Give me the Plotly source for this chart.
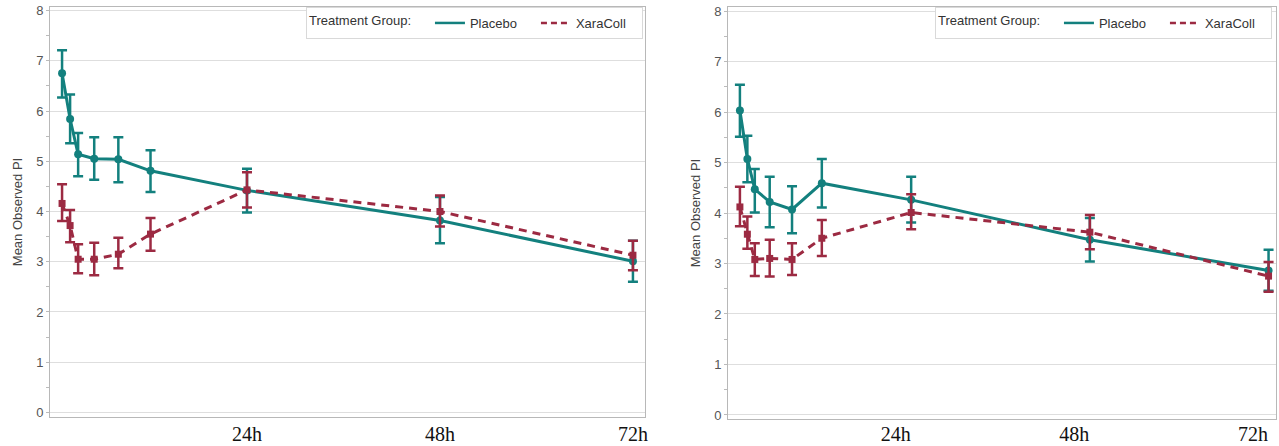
import plotly.graph_objects as go

# ---- data ----
hours = [1, 2, 3, 5, 8, 12, 24, 48, 72]
x_tick_vals = [24, 48, 72]
x_tick_text = ["24h", "48h", "72h"]
y_ticks = [0, 1, 2, 3, 4, 5, 6, 7, 8]

# left panel
left_placebo = [6.75, 5.84, 5.14, 5.05, 5.04, 4.81, 4.42, 3.82, 3.01]
left_placebo_hi = [7.21, 6.33, 5.56, 5.48, 5.48, 5.22, 4.85, 4.29, 3.42]
left_placebo_lo = [6.27, 5.36, 4.70, 4.63, 4.58, 4.39, 3.98, 3.37, 2.60]
left_xara = [4.16, 3.72, 3.05, 3.05, 3.15, 3.55, 4.43, 4.00, 3.13]
left_xara_hi = [4.54, 4.03, 3.35, 3.38, 3.48, 3.87, 4.78, 4.32, 3.42]
left_xara_lo = [3.81, 3.39, 2.77, 2.73, 2.87, 3.22, 4.08, 3.70, 2.83]

# right panel
right_placebo = [6.03, 5.07, 4.47, 4.22, 4.07, 4.59, 4.26, 3.47, 2.86]
right_placebo_hi = [6.54, 5.53, 4.87, 4.72, 4.53, 5.07, 4.72, 3.90, 3.27]
right_placebo_lo = [5.51, 4.61, 4.01, 3.72, 3.60, 4.11, 3.81, 3.04, 2.46]
right_xara = [4.12, 3.58, 3.08, 3.10, 3.08, 3.50, 4.01, 3.62, 2.75]
right_xara_hi = [4.52, 3.93, 3.40, 3.47, 3.40, 3.86, 4.37, 3.96, 3.03]
right_xara_lo = [3.74, 3.29, 2.75, 2.74, 2.77, 3.15, 3.68, 3.28, 2.44]

TEAL = "#13807e"
RED = "#9c2a42"
SANS = "Liberation Sans, Arial, sans-serif"

fig = go.Figure()


def add_series(y, hi, lo, color, symbol, dash, xa, ya, size):
    fig.add_trace(go.Scatter(
        x=hours, y=y, mode="lines+markers",
        line=dict(color=color, width=3, dash=dash),
        marker=dict(color=color, symbol=symbol, size=size),
        error_y=dict(type="data", symmetric=False,
                     array=[h - v for h, v in zip(hi, y)],
                     arrayminus=[v - l for v, l in zip(y, lo)],
                     color=color, thickness=2.5, width=5),
        xaxis=xa, yaxis=ya, showlegend=False, hoverinfo="x+y",
        cliponaxis=False,
    ))


add_series(left_placebo, left_placebo_hi, left_placebo_lo, TEAL, "circle", "solid", "x", "y", 8)
add_series(left_xara, left_xara_hi, left_xara_lo, RED, "square", "8px,6px", "x", "y", 7)
add_series(right_placebo, right_placebo_hi, right_placebo_lo, TEAL, "circle", "solid", "x2", "y2", 8)
add_series(right_xara, right_xara_hi, right_xara_lo, RED, "square", "8px,6px", "x2", "y2", 7)

# legend-only entries (lines only, as in the reference)
for lg, xa, ya in [("legend", "x", "y"), ("legend2", "x2", "y2")]:
    fig.add_trace(go.Scatter(x=[None], y=[None], mode="lines", name="Placebo",
                             line=dict(color=TEAL, width=2.5), legend=lg,
                             xaxis=xa, yaxis=ya))
    fig.add_trace(go.Scatter(x=[None], y=[None], mode="lines", name="XaraColl",
                             line=dict(color=RED, width=2.5, dash="6px,4px"), legend=lg,
                             xaxis=xa, yaxis=ya))

W, H = 1279, 446

xaxis_common = dict(
    tickvals=x_tick_vals, ticktext=x_tick_text, ticks="",
    tickfont=dict(family="Liberation Serif, Times New Roman, serif", size=20, color="#111"),
    showgrid=False, zeroline=False, showline=True, linecolor="#b8b8b8", linewidth=1,
    mirror=True, automargin=False, ticklabeloverflow="allow",
)
yaxis_common = dict(
    range=[-0.09, 8.07], tickvals=y_ticks, ticks="outside", ticklen=3, tickcolor="#bbb",
    minor=dict(dtick=0.5, ticks="outside", ticklen=3, tickcolor="#bbb", showgrid=False),
    tickfont=dict(family=SANS, size=13, color="#555"),
    showgrid=True, gridcolor="#dedede", gridwidth=1, zeroline=False,
    showline=True, linecolor="#b8b8b8", linewidth=1, mirror=True, automargin=False,
    title=dict(text="Mean Observed PI", standoff=10,
               font=dict(family=SANS, size=13, color="#444")),
)

legend_common = dict(
    orientation="h", xanchor="right", yanchor="top",
    bordercolor="#d9d9d9", borderwidth=1, bgcolor="white",
    font=dict(family=SANS, size=13, color="#333"),
    title=dict(text="Treatment Group:" + "&nbsp;" * 3, side="left",
               font=dict(family=SANS, size=13, color="#333")),
    itemwidth=30, tracegroupgap=0, entrywidth=61, entrywidthmode="pixels",
    valign="middle",
)

fig.update_layout(
    template="none",
    width=W, height=H,
    margin=dict(l=0, r=0, t=0, b=0, autoexpand=False),
    paper_bgcolor="white", plot_bgcolor="white",
    xaxis=dict(domain=[50 / W, 645 / W], range=[-0.5, 73.5], anchor="y",
               ticklabelstandoff=-1, **xaxis_common),
    yaxis=dict(domain=[1 - 417 / H, 1 - 7 / H], anchor="x", **yaxis_common),
    xaxis2=dict(domain=[728 / W, 1276 / W], range=[-0.6, 73.0], anchor="y2",
                ticklabelposition="outside left", ticklabelstandoff=-3, **xaxis_common),
    yaxis2=dict(domain=[1 - 419 / H, 1 - 7 / H], anchor="x2", **{**yaxis_common, "range": [-0.08, 8.08]}),
    legend=dict(x=643 / W, y=1 - 7 / H, **legend_common),
    legend2=dict(x=1272 / W, y=1 - 7 / H, **legend_common),
    showlegend=True,
)

fig.write_html("out.html", config={"displayModeBar": False},
               post_script="document.body.style.margin='0';document.body.style.overflow='hidden';")
